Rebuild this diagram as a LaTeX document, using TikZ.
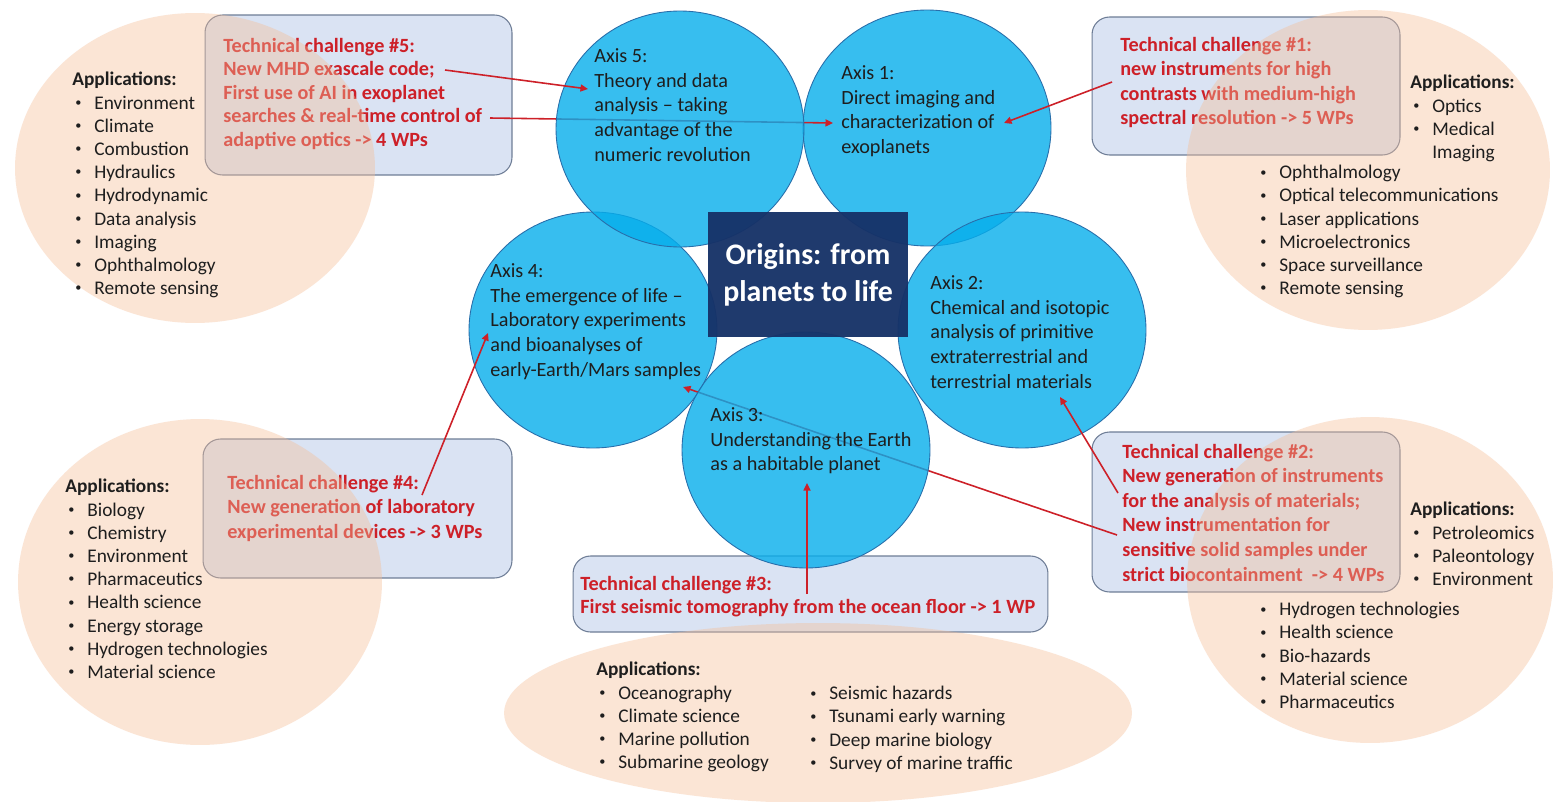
\documentclass[tikz,border=0pt]{standalone}
\usepackage{fontspec}
\setmainfont{Carlito}
\usepackage{xcolor}
\usetikzlibrary{arrows.meta,shapes.geometric}
\definecolor{AxisFill}{RGB}{6,174,236}
\definecolor{AxisLine}{RGB}{40,110,170}
\definecolor{CoreFill}{RGB}{22,50,104}
\definecolor{ChallengeFill}{RGB}{218,227,243}
\definecolor{ChallengeLine}{RGB}{110,125,150}
\definecolor{ChallengeInk}{RGB}{205,32,40}
\definecolor{AppFill}{RGB}{245,190,152}
\definecolor{AppInk}{RGB}{30,30,30}
\newcommand{\itm}{\hspace*{0.06cm}\makebox[0.38cm][l]{\raisebox{0.3ex}{\fontsize{7}{7}\selectfont\textbullet}}}
\newcommand{\itmgap}{\hspace*{0.44cm}}
\tikzset{
  figure/.style={x=0.02cm,y=-0.02cm,font=\fontsize{11}{13.2}\selectfont},
  axis/.style={ellipse,draw=AxisLine,line width=0.5pt,fill=AxisFill,fill opacity=0.8,minimum width=4.96cm,minimum height=4.72cm,inner sep=0pt},
  axistext/.style={anchor=north west,inner sep=0pt,align=left,text=AppInk,font=\fontsize{11.5}{14}\selectfont},
  core/.style={rectangle,fill=CoreFill,fill opacity=0.96,text opacity=1,text=white,font=\fontsize{17}{21}\selectfont\bfseries,align=center,minimum width=4cm,minimum height=2.5cm},
  challenge/.style={rectangle,rounded corners=0.35cm,draw=ChallengeLine,line width=0.6pt,fill=ChallengeFill},
  challengetext/.style={anchor=north west,inner sep=0pt,align=left,text=ChallengeInk,font=\fontsize{11.5}{14}\selectfont\bfseries},
  app/.style={ellipse,fill=AppFill,fill opacity=0.4,inner sep=0pt},
  apptext/.style={anchor=north west,inner sep=0pt,align=left,text=AppInk,font=\fontsize{11}{13.2}\selectfont},
  link/.style={-{Triangle[length=1.5mm,width=1.4mm]},line width=0.9pt,draw=ChallengeInk},
}

\begin{document}
\begin{tikzpicture}[figure]
  \fill[white] (0,0) rectangle (1557,801);
  \useasboundingbox (0,0) rectangle (1557,801);

  \node[challenge,minimum width=6.14cm,minimum height=3.2cm] (tc5) at (358.5,95) {};
  \node[challenge,minimum width=6.16cm,minimum height=2.76cm] (tc1) at (1246,86) {};
  \node[challenge,minimum width=6.18cm,minimum height=2.78cm] (tc4) at (357.5,508.5) {};
  \node[challenge,minimum width=6.16cm,minimum height=3.2cm] (tc2) at (1246,512) {};
  \node[challenge,minimum width=9.5cm,minimum height=1.52cm] (tc3) at (810.5,594) {};

  \node[challengetext,font=\fontsize{11.5}{13.4}\selectfont\bfseries] (tc5txt) at (223,37.5)
    {Technical challenge \#5:\\New MHD exascale code;\\First use of AI in exoplanet\\searches \& real-time control of\\adaptive optics -> 4 WPs};
  \node[challengetext] (tc1txt) at (1120,36.5)
    {Technical challenge \#1:\\new instruments for high\\contrasts with medium-high\\spectral resolution -> 5 WPs};
  \node[challengetext] (tc4txt) at (227,474.5)
    {Technical challenge \#4:\\New generation of laboratory\\experimental devices -> 3 WPs};
  \node[challengetext] (tc2txt) at (1122,443.5)
    {Technical challenge \#2:\\New generation of instruments\\for the analysis of materials;\\New instrumentation for\\sensitive solid samples under\\strict biocontainment\ \ -> 4 WPs};
  \node[challengetext,font=\fontsize{11.5}{13.2}\selectfont\bfseries] (tc3txt) at (580,575.5)
    {Technical challenge \#3:\\First seismic tomography from the ocean floor -> 1 WP};

  \node[axis] (ax1) at (927,128) {};
  \node[axis] (ax2) at (1022,330) {};
  \node[axis] (ax4) at (593,330) {};

  \coordinate (tc5ai) at (490,118);
  \coordinate (ax1in) at (833,123);
  \coordinate (tc2bio) at (1117,535);
  \coordinate (ax4in) at (683,387);
  \draw[link] (tc5ai) -- (ax1in);
  \draw[link] (tc2bio) -- (ax4in);

  \node[axis] (ax5) at (680,129) {};
  \node[axis] (ax3) at (806,450) {};

  \node[core] (origins) at (808,274.5) {Origins: from\\planets to life};

  \node[axistext] (ax5txt) at (594,48.5)
    {Axis 5:\\Theory and data\\analysis – taking\\advantage of the\\numeric revolution};
  \node[axistext] (ax1txt) at (841,65.5)
    {Axis 1:\\Direct imaging and\\characterization of\\exoplanets};
  \node[axistext] (ax4txt) at (490,263.5)
    {Axis 4:\\The emergence of life –\\Laboratory experiments\\and bioanalyses of\\early-Earth/Mars samples};
  \node[axistext] (ax2txt) at (930,275.5)
    {Axis 2:\\Chemical and isotopic\\analysis of primitive\\extraterrestrial and\\terrestrial materials};
  \node[axistext] (ax3txt) at (710,407.5)
    {Axis 3:\\Understanding the Earth\\as a habitable planet};

  \coordinate (tc5mhd) at (445,70);
  \coordinate (ax5in) at (588,89);
  \coordinate (tc1new) at (1112,82);
  \coordinate (ax1tip) at (1004,123);
  \coordinate (tc4end) at (422,495);
  \coordinate (ax4tip) at (488,333);
  \coordinate (tc3mid) at (807,594);
  \coordinate (ax3in) at (807,483);
  \coordinate (tc2new) at (1118,493);
  \coordinate (ax2in) at (1060,397);
  \draw[link] (tc5mhd) -- (ax5in);
  \draw[link] (tc1new) -- (ax1tip);
  \draw[link] (tc4end) -- (ax4tip);
  \draw[link] (tc3mid) -- (ax3in);
  \draw[link] (tc2new) -- (ax2in);

  \node[app,minimum width=7.2cm,minimum height=6.2cm] (tlapp) at (195,168) {};
  \node[app,minimum width=7.28cm,minimum height=6.4cm] (trapp) at (1368,170) {};
  \node[app,minimum width=7.28cm,minimum height=6.52cm] (blapp) at (200,582) {};
  \node[app,minimum width=7.32cm,minimum height=6.52cm] (brapp) at (1370,580) {};
  \node[app,minimum width=12.56cm,minimum height=3.6cm] (bcapp) at (818,713) {};

  \node[apptext] (tllist) at (72,72)
    {\textbf{Applications:}\\\itm Environment\\\itm Climate\\\itm Combustion\\\itm Hydraulics\\\itm Hydrodynamic\\\itm Data analysis\\\itm Imaging\\\itm Ophthalmology\\\itm Remote sensing};
  \node[apptext] (trlist) at (1410,75)
    {\textbf{Applications:}\\\itm Optics\\\itm Medical\\\itmgap Imaging};
  \node[apptext] (trmore) at (1257,165)
    {\itm Ophthalmology\\\itm Optical telecommunications\\\itm Laser applications\\\itm Microelectronics\\\itm Space surveillance\\\itm Remote sensing};
  \node[apptext] (bllist) at (65,479)
    {\textbf{Applications:}\\\itm Biology\\\itm Chemistry\\\itm Environment\\\itm Pharmaceutics\\\itm Health science\\\itm Energy storage\\\itm Hydrogen technologies\\\itm Material science};
  \node[apptext] (brlist) at (1410,502)
    {\textbf{Applications:}\\\itm Petroleomics\\\itm Paleontology\\\itm Environment};
  \node[apptext] (brmore) at (1257,602)
    {\itm Hydrogen technologies\\\itm Health science\\\itm Bio-hazards\\\itm Material science\\\itm Pharmaceutics};
  \node[apptext] (bclist) at (596,662)
    {\textbf{Applications:}\\\itm Oceanography\\\itm Climate science\\\itm Marine pollution\\\itm Submarine geology};
  \node[apptext] (bcmore) at (807,686)
    {\itm Seismic hazards\\\itm Tsunami early warning\\\itm Deep marine biology\\\itm Survey of marine traffic};
\end{tikzpicture}
\end{document}
